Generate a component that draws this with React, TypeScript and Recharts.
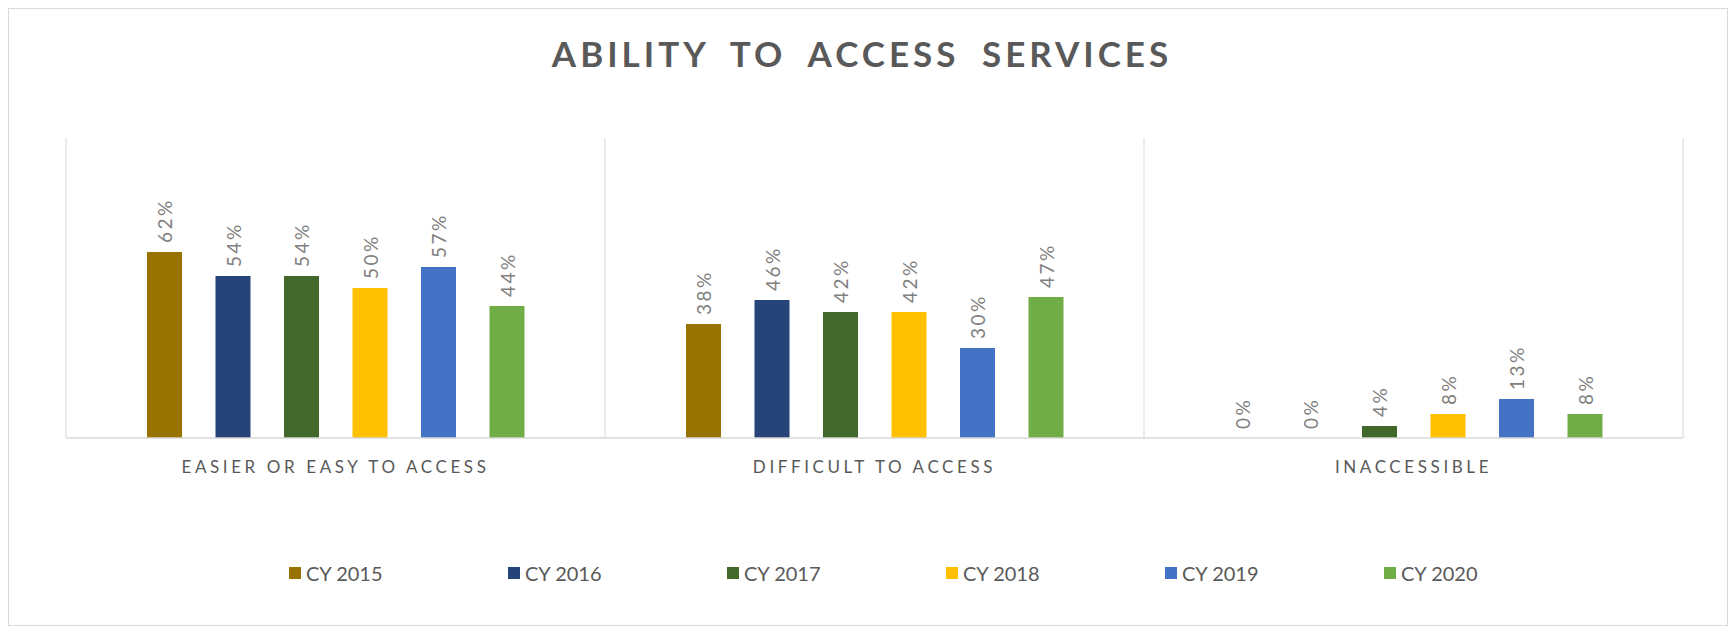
import React from "react";
import { BarChart, Bar, XAxis, YAxis, CartesianGrid, Legend, LabelList } from "recharts";

const categories = ["EASIER OR EASY TO ACCESS", "DIFFICULT TO ACCESS", "INACCESSIBLE"];
const seriesNames = ["CY 2015", "CY 2016", "CY 2017", "CY 2018", "CY 2019", "CY 2020"];
const seriesColors = ["#997300", "#264478", "#43682B", "#FFC000", "#4472C4", "#70AD47"];
const cy2015 = [62, 38, 0];
const cy2016 = [54, 46, 0];
const cy2017 = [54, 42, 4];
const cy2018 = [50, 42, 8];
const cy2019 = [57, 30, 13];
const cy2020 = [44, 47, 8];
const seriesValues = [cy2015, cy2016, cy2017, cy2018, cy2019, cy2020];

const data = categories.map((c, i) => {
  const row: Record<string, string | number> = { category: c };
  seriesNames.forEach((s, j) => {
    row[s] = seriesValues[j][i];
  });
  return row;
});

const FONT = "Lato, 'Open Sans', sans-serif";

const renderLabel = (props: any) => {
  const { x, y, width, value } = props;
  const cx = Number(x) + Number(width) / 2;
  const ty = Number(y) - 9;
  return (
    <text
      x={cx}
      y={ty}
      transform={`rotate(-90, ${cx}, ${ty})`}
      textAnchor="start"
      dominantBaseline="central"
      fill="#808080"
      fontSize={19}
      letterSpacing={2.5}
      fontFamily={FONT}
    >
      {`${value}%`}
    </text>
  );
};

const renderTick = (props: any) => {
  const { x, y, payload } = props;
  return (
    <text
      x={x}
      y={Number(y) + 20}
      textAnchor="middle"
      dominantBaseline="central"
      fill="#595959"
      fontSize={17}
      letterSpacing={3.6}
      fontFamily={FONT}
    >
      {payload.value}
    </text>
  );
};

const renderLegend = (props: any) => {
  const { payload } = props;
  return (
    <div style={{ display: "flex", height: 22, alignItems: "center", paddingLeft: 280 }}>
      {(payload || []).map((p: any) => (
        <div key={p.value} style={{ width: 219, display: "flex", alignItems: "center" }}>
          <span style={{ width: 12, height: 12, background: p.color, display: "inline-block", marginRight: 5 }} />
          <span style={{ fontFamily: FONT, fontSize: 20, color: "#595959" }}>{p.value}</span>
        </div>
      ))}
    </div>
  );
};

const verticalLines = (args: any) => {
  const { offset } = args;
  const w = offset.width;
  const l = offset.left;
  return [l, l + w / 3, l + (2 * w) / 3, l + w];
};

export default function App() {
  return (
    <div
      style={{
        position: "relative",
        width: 1718,
        height: 616,
        border: "1px solid #d9d9d9",
        background: "#fff",
      }}
    >
      <div
        style={{
          position: "absolute",
          left: 0,
          right: 12,
          top: 23,
          textAlign: "center",
          fontFamily: FONT,
          fontWeight: 700,
          fontSize: 35,
          letterSpacing: 4,
          wordSpacing: 10,
          color: "#595959",
        }}
      >
        ABILITY TO ACCESS SERVICES
      </div>
      <BarChart
        width={1718}
        height={616}
        data={data}
        margin={{ top: 129, right: 44, left: 57, bottom: 115 }}
        barSize={35}
        barGap={33.5}
      >
        <CartesianGrid horizontal={false} stroke="#d9d9d9" verticalCoordinatesGenerator={verticalLines} />
        <XAxis
          dataKey="category"
          axisLine={{ stroke: "#d9d9d9", strokeWidth: 1.5 }}
          tickLine={false}
          tick={renderTick}
          height={50}
          interval={0}
        />
        <YAxis hide domain={[0, 100]} />
        <Legend
          verticalAlign="bottom"
          content={renderLegend}
          wrapperStyle={{ position: "absolute", left: 0, top: 553, width: 1718, height: 22 }}
        />
        {seriesNames.map((s, j) => (
          <Bar key={s} dataKey={s} fill={seriesColors[j]} minPointSize={0.01} isAnimationActive={false}>
            <LabelList dataKey={s} content={renderLabel} />
          </Bar>
        ))}
      </BarChart>
    </div>
  );
}
